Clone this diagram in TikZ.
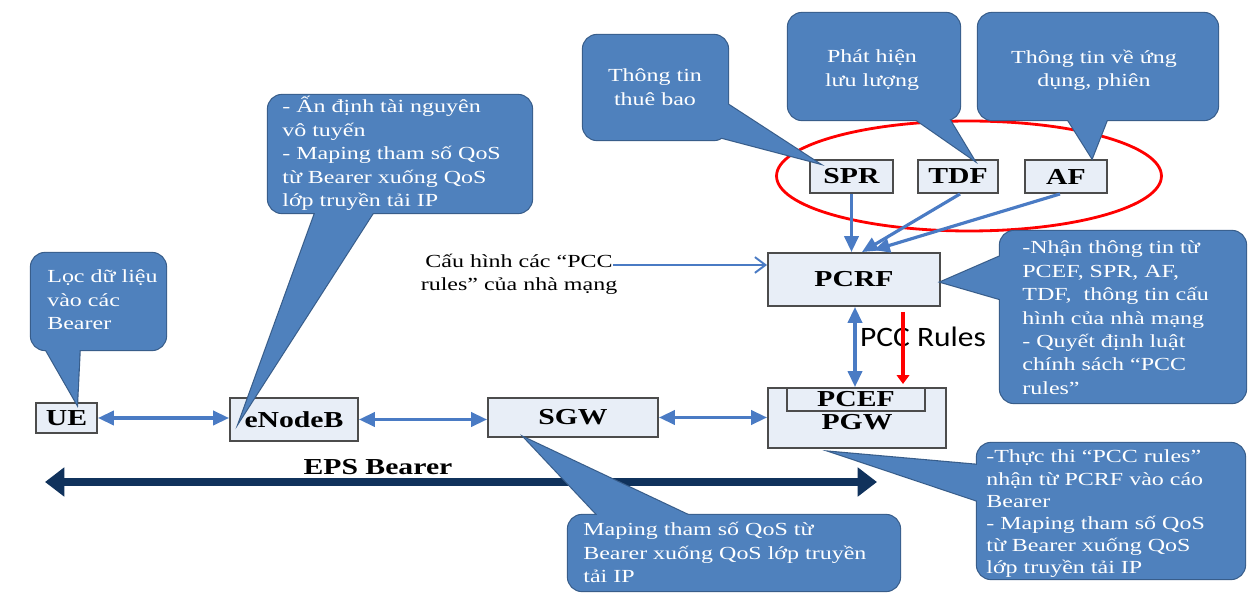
\documentclass[tikz,border=0pt]{standalone}
\usepackage{fontspec}
\setmainfont{Liberation Serif}[FakeStretch=1.3]
\newfontfamily\calfont{Carlito}[FakeStretch=1.12]
\usetikzlibrary{arrows.meta,calc}
\definecolor{cblue}{HTML}{4F81BD}
\definecolor{cborder}{HTML}{385D8A}
\definecolor{boxfill}{HTML}{E8EEF7}
\definecolor{arrowblue}{HTML}{4A7BC4}
\definecolor{navy}{HTML}{10325C}
\newcommand\mycallout[5]{%
  \filldraw[cdraw,rounded corners=8pt] #1 rectangle #2;
  \filldraw[cdraw] #3 -- #4 -- #5 -- cycle;
  \fill[cblue,rounded corners=8pt] #1 rectangle #2;
  \fill[cblue] #3 -- #4 -- #5 -- cycle;}
\newcommand\tlines[1]{\begin{tabular}[t]{@{}l@{}}#1\end{tabular}}
\tikzset{
  cdraw/.style={draw=cborder,fill=cblue,line width=1.3pt,line join=miter},
  ctext/.style={text=white,font=\fontsize{10.5}{13.3}\selectfont,inner sep=0pt,anchor=base west},
  ctextc/.style={text=white,font=\fontsize{10.5}{13.3}\selectfont,align=center,inner sep=0pt,anchor=center},
  nbox/.style={draw=black!70,fill=boxfill,line width=1.1pt,inner sep=0pt,font=\bfseries\fontsize{13}{15}\selectfont},
  nlabel/.style={inner sep=0pt,font=\bfseries\fontsize{13}{15}\selectfont},
  barrow/.style={draw=arrowblue,line width=1.8pt,{Triangle[length=9pt,width=8pt]}-{Triangle[length=9pt,width=8pt]}},
  sarrow/.style={draw=arrowblue,line width=1.8pt,-{Triangle[length=9pt,width=8pt]}},
  cfgarrow/.style={draw=arrowblue,line width=1.1pt,-{Straight Barb[length=6pt,width=9pt]}},
  redarrow/.style={draw=red,line width=2.2pt,-{Triangle[length=5pt,width=7pt]}},
  epsarrow/.style={draw=navy,line width=4.5pt,{Triangle[length=11pt,width=16pt]}-{Triangle[length=11pt,width=16pt]}},
}
\begin{document}
\begin{tikzpicture}[x=0.02cm,y=-0.02cm]
\useasboundingbox (0,0) rectangle (1249,594);
\fill[white] (0,0) rectangle (1249,594);

% red ellipse
\draw[red,line width=1.6pt] (969,176) ellipse [x radius=3.85cm,y radius=1.1cm];

% boxes
\node[nbox,minimum width=1.22cm,minimum height=0.6cm] (ue) at (66.5,418) {UE};
\node[nbox,minimum width=2.56cm,minimum height=0.86cm] (enb) at (294,419.5) {eNodeB};
\node[nbox,minimum width=3.4cm,minimum height=0.78cm] (sgw) at (573,417.5) {SGW};
\node[nbox,minimum width=3.56cm,minimum height=1.2cm] (pgw) at (857,418) {};
\node[nlabel] (pgwlbl) at (857,422) {PGW};
\node[nbox,minimum width=2.76cm,minimum height=0.46cm] (pcef) at (856,399.5) {PCEF};
\node[nbox,minimum width=3.44cm,minimum height=1.06cm] (pcrf) at (854,279.5) {PCRF};
\node[nbox,minimum width=1.66cm,minimum height=0.66cm] (spr) at (851.5,176.5) {SPR};
\node[nbox,minimum width=1.6cm,minimum height=0.66cm] (tdf) at (958,176.5) {TDF};
\node[nbox,minimum width=1.64cm,minimum height=0.66cm] (af) at (1066,176.5) {AF};

% EPS bearer
\coordinate (epsL) at (45,482);
\coordinate (epsR) at (877,482);
\draw[epsarrow] (epsL) -- (epsR);
\node[nlabel] (epslbl) at (378,467) {EPS Bearer};

% connectors
\draw[barrow] (ue.east) -- (ue.east -| enb.west);
\draw[barrow] (enb.east) -- (enb.east -| sgw.west);
\draw[barrow] (sgw.east) -- (sgw.east -| pgw.west);
\coordinate (pa) at ($(pcrf.south)+(1,0)$);
\draw[barrow] (pa) -- (pa |- pgw.north);
\draw[sarrow] (spr.south) -- (spr.south |- pcrf.north);
\draw[sarrow] ($(tdf.south)+(2,0)$) -- ($(pcrf.north)+(8,0)$);
\draw[sarrow] ($(af.south)+(-6,0)$) -- ($(pcrf.north)+(20,-2)$);

% config text
\node[align=center,inner sep=0pt,font=\fontsize{10.5}{13.3}\selectfont] (cfg) at (519,274) {Cấu hình các “PCC\\rules” của nhà mạng};
\coordinate (cfgstart) at (613,265);
\draw[cfgarrow] (cfgstart) -- (cfgstart -| pcrf.west);

% PCC rules
\node[inner sep=0pt,font=\calfont\fontsize{16}{18}\selectfont] (pccr) at (923,337) {PCC Rules};
\coordinate (r1) at (903,312);
\coordinate (r2) at (903,384);
\draw[redarrow] (r1) -- (r2);

% callouts
\mycallout{(31,253)}{(166,350)}{(42,343)}{(77,404)}{(80,343)}
\node[ctext] (calUE) at (47,283) {\tlines{Lọc dữ liệu\\vào các\\Bearer}};

\mycallout{(268,95)}{(532,213)}{(318,205)}{(240,420)}{(378,205)}
\node[ctext] (calENB) at (282,113) {\tlines{- Ấn định tài nguyên\\vô tuyến\\- Maping tham số QoS\\từ Bearer xuống QoS\\lớp truyền tải IP}};

\mycallout{(568,515)}{(900,591)}{(605,523)}{(525,438)}{(705,523)}
\node[ctext] (calSGW) at (583,536) {\tlines{Maping tham số QoS từ\\Bearer xuống QoS lớp truyền\\tải IP}};

\mycallout{(977,443)}{(1245,579)}{(990,466)}{(832,452)}{(990,505)}
\node[ctext,font=\fontsize{10.5}{12.6}\selectfont] (calPGW) at (986,463) {\tlines{-Thực thi “PCC rules”\\nhận từ PCRF vào cáo\\Bearer\\- Maping tham số QoS\\từ Bearer xuống QoS\\lớp truyền tải IP}};

\mycallout{(1000,231)}{(1246,403)}{(1010,252)}{(941,282)}{(1010,302)}
\node[ctext] (calPCRF) at (1022,254) {\tlines{-Nhận thông tin từ\\PCEF, SPR, AF,\\TDF,\ \ thông tin cấu\\hình của nhà mạng\\- Quyết định luật\\chính sách “PCC\\rules”}};

\mycallout{(583,35)}{(728,140)}{(718,98)}{(818,163)}{(700,132)}
\node[ctextc] (calSPR) at (655,87) {Thông tin\\thuê bao};

\mycallout{(788,13)}{(960,120)}{(905,112)}{(974,160)}{(945,112)}
\node[ctextc] (calTDF) at (872,70) {Phát hiện\\lưu lượng};

\mycallout{(978,13)}{(1218,120)}{(1063,112)}{(1092,158)}{(1110,112)}
\node[ctextc] (calAF) at (1094,70) {Thông tin về ứng\\dụng, phiên};
\end{tikzpicture}
\end{document}
